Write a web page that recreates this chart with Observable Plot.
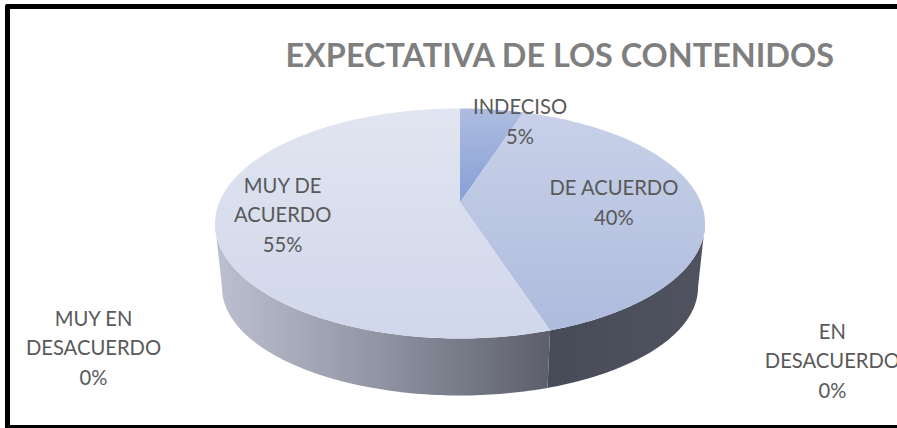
<!DOCTYPE html>
<html>
<head>
<meta charset="utf-8">
<script src="https://cdn.jsdelivr.net/npm/d3@7"></script>
<script src="https://cdn.jsdelivr.net/npm/@observablehq/plot@0.6"></script>
<style>
  html, body { margin: 0; padding: 0; background: #fff; overflow: hidden; }
  #chart { position: relative; width: 897px; height: 428px; overflow: hidden; }
  #chart svg { display: block; position: absolute; left: 0; top: 0; background: transparent; }
  #edge { position: absolute; left: 5px; top: 4px; width: 1000px; height: 416px;
          border: 5.5px solid #000; border-radius: 2px; }
</style>
</head>
<body>
<div id="chart"><div id="edge"></div></div>
<script>
// ---- chart values ----
const chartTitle = "EXPECTATIVA DE LOS CONTENIDOS";
const categories = ["INDECISO", "DE ACUERDO", "EN DESACUERDO", "MUY EN DESACUERDO", "MUY DE ACUERDO"];
const shares = [5, 40, 0, 0, 55];
const labelLines = ["INDECISO", "DE ACUERDO", "EN\nDESACUERDO", "MUY EN\nDESACUERDO", "MUY DE\nACUERDO"];

// ---- label placement in disc units ----
const labelX = [0.245, 0.628, 1.52, -1.496, -0.724];
const labelY = [0.904, 0.2, -1.178, -1.064, 0.091];

// ---- 3D look ----
const tilt = 0.1826;                 // perspective strength of the disc
const depth = {sx: 0.9714, sy: 0.939, drop: 0.5565};
const topFills = ["url(#gIndeciso)", "url(#gAcuerdo)", null, null, "url(#gMuy)"];
const wallFills = [null, "url(#gWallDark)", null, null, "url(#gWallLight)"];

const s = Math.sqrt(1 - tilt * tilt);
const project = (deg) => {
  const t = deg * Math.PI / 180, u = Math.sin(t), v = Math.cos(t), w = 1 + tilt * v;
  return {x: s * u / w, y: (1 - tilt * tilt) * v / w + tilt};
};
const arc = (a, b) => {
  const n = Math.max(2, Math.ceil(Math.abs(b - a)));
  return d3.range(n + 1).map((i) => project(a + (b - a) * i / n));
};
const lower = (p) => ({x: p.x * depth.sx, y: p.y * depth.sy - depth.drop});

let cum = 0;
const slices = shares.map((v, i) => {
  const start = cum * 3.6; cum += v;
  return {i, start, end: cum * 3.6, name: categories[i], value: v};
});

const wallFrom = 90 + Math.asin(tilt) * 180 / Math.PI, wallTo = 360 - wallFrom;
const apex = {x: 0, y: tilt};
const faceMarks = slices.filter((d) => d.value > 0).map((d) =>
  Plot.line([apex, ...arc(d.start, d.end), apex], {
    x: "x", y: "y", fill: topFills[d.i], stroke: "none", curve: "linear"
  }));
const wallMarks = slices.filter((d) => d.value > 0 && wallFills[d.i]).map((d) => {
  const a = Math.max(d.start, wallFrom), b = Math.min(d.end, wallTo);
  const top = arc(a, b);
  return Plot.line([...top, ...top.slice().reverse().map(lower)], {
    x: "x", y: "y", fill: wallFills[d.i], stroke: "none", curve: "linear"
  });
});

const grad = (id, vertical, stops) => {
  const g = d3.create("svg:linearGradient").attr("id", id)
    .attr("x1", 0).attr("y1", 0).attr("x2", vertical ? 0 : 1).attr("y2", vertical ? 1 : 0);
  stops.forEach(([o, c]) => g.append("stop").attr("offset", o).attr("stop-color", c));
  return g.node();
};
const defsMark = () => {
  const defs = d3.create("svg:defs");
  [grad("gMuy", true, [[0, "#e1e5f1"], [1, "#d0d7ea"]]),
   grad("gAcuerdo", true, [[0, "#c8d1e8"], [1, "#aebbdd"]]),
   grad("gIndeciso", true, [[0, "#adbce0"], [1, "#88a0d7"]]),
   grad("gWallLight", false, [[0, "#bcc0cf"], [0.5, "#8f93a2"], [1, "#5c5f6a"]]),
   grad("gWallDark", false, [[0, "#474b59"], [1, "#50535f"]])
  ].forEach((g) => defs.node().appendChild(g));
  return defs.node();
};

const labels = slices.map((d) => ({
  x: labelX[d.i], y: labelY[d.i],
  text: labelLines[d.i] + "\n" + d.value + "%"
}));

const plot = Plot.plot({
  width: 897, height: 428,
  marginTop: 0, marginRight: 0, marginBottom: 0, marginLeft: 0,
  x: {axis: null, domain: [-1, 1], range: [214.5, 704.5]},
  y: {axis: null, domain: [-1, 1], range: [338, 108]},
  marks: [
    defsMark,
    ...wallMarks,
    ...faceMarks,
    Plot.text(labels, {
      x: "x", y: "y", text: "text", lineHeight: 1.46, textAnchor: "middle",
      fontFamily: "Lato", fontSize: 20.2, fill: "#595959"
    }),
    Plot.text([chartTitle], {
      frameAnchor: "top-left", dx: 285, dy: 43, lineAnchor: "top",
      fontFamily: "Lato", fontWeight: 700, fontSize: 32.4, fill: "#7f7f7f"
    })
  ],
  style: {background: "transparent", overflow: "hidden"}
});
document.getElementById("chart").appendChild(plot);
</script>
</body>
</html>
